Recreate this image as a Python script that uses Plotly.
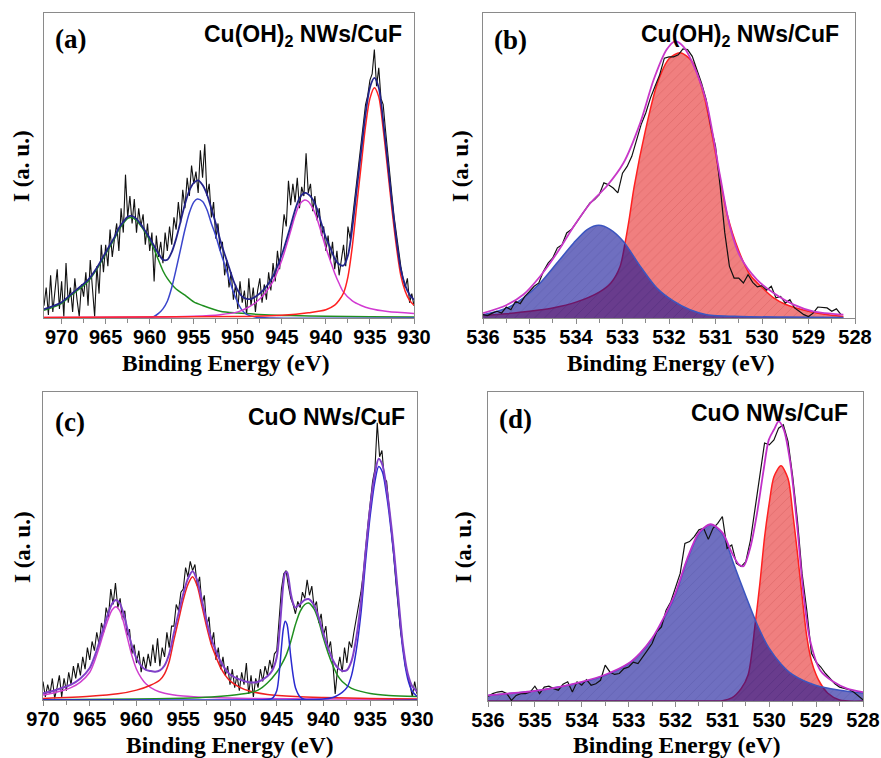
import plotly.graph_objects as go

# ---------------- DATA ----------------
# Panel (a): Cu 2p, Cu(OH)2 NWs/CuF  (raw spectrum, 0.25 eV steps from 972 eV)
a_start, a_step = 972.0, -0.25
a_raw = [
    4, 10, 1, 14,   2, 9, 16, 3,   12, 0.5, 18, 5,   10, 2, 13, 6,
    0.5, 11, 7, 15,   4, 19, 10, 0.5,   17, 8, 24, 15,   24, 17, 29, 20,
    26, 31, 22, 36,   28, 47, 33, 40,   31, 39, 28, 36,   30, 34, 24, 31,
    22, 28, 12, 27,   20, 25, 18, 28,   22, 30, 24, 33,   29, 38, 31, 42,
    36, 46, 40, 50,   44, 48, 41, 55,   46, 57, 40, 44,   33, 38, 26, 31,
    22, 25, 14, 19,   10, 15, 6, 11,   3, 12, 5, 9,   1, 13, 4, 10,
    2, 9, 13, 5,   11, 6, 15, 9,   18, 12, 22, 16,   26, 34, 30, 45,
    37, 44, 38, 46,   36, 43, 40, 54,   41, 44, 35, 40,   32, 36, 27, 30,
    22, 27, 19, 25,   16, 22, 14, 20,   24, 17, 30, 26,   32, 40, 45, 52,
    57, 63, 70, 73,   78, 80, 88, 76,   82, 72, 70, 62,   54, 47, 40, 33,
    27, 22, 17, 13,   10, 13, 5, 8,   4,
]
a_green_x = [972, 971, 970, 969, 968, 967, 966, 965, 964, 963.5, 963, 962.5, 962, 961.5, 961, 960.5, 960,
             959.5, 959, 958.5, 958, 957, 956, 955, 954, 952, 950, 947, 944, 940, 935, 930]
a_green_y = [2.5, 3.5, 4.8, 7.2, 9.5, 12, 16, 21, 26, 29, 31, 32.7, 32.9, 32, 30.2, 28, 25.5,
             22.5, 19, 15.5, 13, 9.5, 7.5, 5.3, 4.1, 2.2, 1.6, 1.1, 0.8, 0.6, 0.4, 0.3]
a_blue_x = [972, 961, 960, 959.5, 959, 958.5, 958, 957.5, 957, 956.5, 956, 955.5, 955, 954.6, 954, 953.5,
            953, 952.5, 952, 951.5, 951, 950.5, 950, 949.5, 949, 948, 946, 930]
a_blue_y = [0, 0, 0.1, 0.5, 1.5, 3, 5.5, 10, 16, 22.5, 29, 34.5, 38, 39, 38.2, 35.5,
            31, 27, 22, 17.5, 13, 8.5, 5, 2.5, 1.2, 0.3, 0, 0]
a_mag_x = [972, 960, 955, 952, 950, 949, 948, 947, 946, 945, 944, 943.5, 943, 942.4, 942, 941.5, 941,
           940.5, 940, 939.5, 939, 938.5, 938, 937, 936, 935, 933, 930]
a_mag_y = [0.2, 0.3, 0.6, 1.1, 2.0, 3.2, 5.0, 7.8, 12, 19, 28.5, 33.5, 37.2, 38.7, 38.2, 36, 32.5,
           27.8, 23, 18.8, 14.7, 11.3, 8.5, 5.6, 4.1, 3.1, 2.1, 1.5]
a_red_x = [972, 950, 945, 942, 940, 939, 938.5, 938, 937.5, 937, 936.5, 936, 935.5, 935, 934.5, 934,
           933.5, 933, 932.5, 932, 931.5, 931, 930.5, 930]
a_red_y = [0.2, 0.5, 0.9, 1.7, 2.7, 4.2, 5.8, 8.2, 13.5, 23.5, 37, 50, 63, 72, 75.5, 72.5,
           62, 49, 35.5, 23.5, 14, 8.8, 5.8, 4.2]
a_env_x = [972, 971, 970, 969, 968, 967, 966, 965, 964, 963.5, 963, 962.5, 962, 961.5, 961, 960.5, 960,
           959.5, 959, 958.5, 958, 957.5, 957, 956.5, 956, 955.5, 955, 954.5, 954, 953.5, 953, 952.5,
           952, 951.5, 951, 950.5, 950, 949.5, 949, 948.5, 948, 947, 946, 945, 944, 943.5, 943, 942.4,
           942, 941.5, 941, 940.5, 940, 939.5, 939, 938.5, 938, 937.5, 937, 936.5, 936, 935.5, 935,
           934.5, 934, 933.5, 933, 932.5, 932, 931.5, 931, 930.5, 930]
a_env_y = [2.9, 3.9, 5.2, 7.6, 10, 12.5, 16.5, 21.5, 26.5, 29.5, 31.5, 33.2, 33.4, 32.5, 30.7, 28.5, 26.2,
           23.6, 21.1, 19.1, 19.1, 21.6, 26, 31.6, 37.3, 41.8, 44.3, 45.1, 43.6, 40.5, 35.8, 31,
           25.6, 21, 16.6, 12.3, 9, 7, 6.3, 6.3, 7, 9.5, 13.7, 20.8, 30.3, 35.4, 39.3, 41,
           40.6, 38.9, 35.7, 30.9, 26.3, 23, 19.5, 17.6, 17.2, 20.5, 29.6, 42.3, 54.6, 67, 75.6,
           78.7, 75.5, 64.7, 51.4, 37.8, 25.6, 16, 10.7, 7.6, 6]

# Panel (b): O 1s, Cu(OH)2 NWs/CuF (raw, 0.1 eV steps from 536 eV)
b_start, b_step = 536.0, -0.1
b_raw = [
    1.1, 0.8, 1.6, 2.2, 1.6, 3.6, 2.7, 5.5, 4.7, 7.1,
    8.7, 10.4, 11.5, 15.3, 18, 19.7, 23, 24, 27.9, 29,
    31.1, 33.3, 35.3, 37.7, 38.8, 40.4, 44.3, 43.7, 42.6, 41,
    47.5, 49.7, 53, 57.9, 63.4, 67.2, 72.1, 76, 79.8, 85.2,
    85.6, 85.6, 86.3, 88.2, 88, 85.8, 81.4, 77, 71.6, 62.8,
    56.3, 43.2, 27.9, 16.9, 13.1, 13.1, 11.5, 14.2, 11.7, 10.2,
    10.6, 9.1, 10.4, 6.6, 7.1, 4.9, 6, 3.3, 2.2, 1.1,
    0.5, 1.6, 3.6, 3.5, 3.3, 2.2, 3, 1.1,
]
b_red_x = [536, 535.5, 535, 534.5, 534, 533.5, 533.25, 533.05, 532.94, 532.85, 532.75, 532.5, 532.25, 532,
           531.76, 531.5, 531.25, 531, 530.75, 530.5, 530.25, 530, 529.75, 529.5, 529, 528.5, 528.25]
b_red_y = [0.8, 1.4, 2.2, 3.3, 5.2, 8.5, 11.5, 17, 25, 33, 43, 62, 77, 85,
           87, 84, 73, 54, 34, 22, 14, 10, 6.6, 4.5, 2.2, 0.9, 0.5]
b_blue_x = [536, 535.48, 535.13, 534.77, 534.41, 534.05, 533.76, 533.51, 533.26, 532.98, 532.62, 532.26,
            531.9, 531.55, 531.19, 530.47, 529.5, 528.25]
b_blue_y = [1.1, 3.3, 6.6, 11.5, 18, 24.6, 29, 30.4, 29, 25.1, 17, 9.8, 5.5, 2.7, 1.1, 0.5, 0.3, 0.2]
b_env_x = [536, 535.5, 535.13, 534.77, 534.41, 534.05, 533.69, 533.34, 532.98, 532.62, 532.33, 532.05,
           531.87, 531.69, 531.4, 531.19, 530.9, 530.69, 530.47, 530.11, 529.75, 529.32, 528.9, 528.25]
b_env_y = [1.6, 4.2, 7.7, 13.7, 21.3, 30, 37.7, 43.2, 50.8, 63.9, 78.1, 88, 90.7, 89, 80.3, 70.5, 46.4,
           30, 20.2, 12.6, 8.2, 4.4, 2.2, 1.1]

# Panel (c): Cu 2p, CuO NWs/CuF (raw, 0.25 eV steps from 970 eV)
c_start, c_step = 970.0, -0.25
c_raw = [
    6, 1, 5, 2,   7, 0.5, 4, 8,   1, 7, 3, 9,   5, 11, 7, 12,
    8, 14, 10, 17,   13, 19, 16, 22,   18, 25, 22, 30,   27, 36, 31, 38,
    30, 33, 26, 29,   21, 23, 15, 18,   12, 16, 9, 14,   10, 15, 11, 18,
    12, 20, 11, 17,   14, 22, 17, 24,   24, 31, 29, 35,   36, 43, 40, 45,
    42, 44, 37, 40,   31, 34, 24, 27,   18, 22, 13, 17,   10, 14, 8, 11,
    5, 10, 4, 8,   3, 9, 5, 12,   2, 8, 1, 7,   4, 10, 6, 11,
    8, 13, 10, 15,   16, 27, 36, 41,   42, 37, 33, 31,   28, 32, 30, 35,
    33, 39, 34, 37,   30, 32, 25, 28,   21, 24, 16, 19,   12, 2, 10, 14,
    9, 17, 12, 19,   17, 22, 26, 31,   35, 41, 50, 57,   64, 71, 75, 90,
    79, 81, 72, 71,   63, 56, 47, 38,   30, 22, 17, 11,   8, 5, 1, 6,   2,
]
c_mag_x = [970, 969, 968, 967, 966, 965, 964.5, 964, 963.5, 963, 962.6, 962.2, 961.8, 961.4, 961, 960.5,
           960, 959.5, 959, 958, 957, 955, 952, 948, 940, 930]
c_mag_y = [1.6, 2.2, 3, 4, 5.8, 9, 12.5, 17, 22, 26.5, 29.3, 30.3, 29, 25.5, 20.5, 14.5,
           10, 7.2, 5.3, 3.2, 2.2, 1.3, 0.8, 0.5, 0.3, 0.2]
c_red_x = [970, 965, 962, 960, 958.5, 957.5, 957, 956.5, 956, 955.5, 955, 954.5, 954, 953.5, 953, 952.5,
           952, 951.5, 951, 950.5, 950, 949, 948, 946, 943, 940, 935, 930]
c_red_y = [0.5, 1.2, 2, 3.2, 4.8, 6.5, 8.5, 12.5, 19.5, 26, 32.5, 37.5, 40, 37, 30.5, 23.8,
           18, 14, 10.5, 8, 6.2, 4.2, 3, 1.8, 1.1, 0.8, 0.5, 0.3]
c_blue1_x = [970, 947, 945.5, 945, 944.7, 944.5, 944.3, 944.1, 943.9, 943.7, 943.5, 943.2, 943, 942.5,
             942, 930]
c_blue1_y = [0, 0, 0.5, 3, 10, 17, 23, 25.6, 24.5, 20, 14, 7, 4, 1, 0.2, 0]
c_green_x = [970, 960, 955, 952, 950, 948, 947, 946, 945, 944.5, 944, 943.5, 943, 942.5, 942, 941.6, 941,
             940.5, 940, 939.5, 939, 938.5, 938, 937, 936, 935, 933, 930]
c_green_y = [0.1, 0.3, 0.6, 1, 1.5, 2.3, 3.2, 5.5, 9, 11.5, 14.5, 19, 24.5, 28.8, 31, 31.5, 29.5,
             25.5, 20, 15.2, 11.2, 8, 6, 3.8, 2.8, 2.1, 1.5, 1.1]
c_blue2_x = [970, 945, 940, 939, 938.5, 938, 937.5, 937, 936.5, 936, 935.5, 935, 934.5, 934.1, 933.7,
             933.3, 933, 932.5, 932, 931.5, 931, 930.5, 930]
c_blue2_y = [0, 0, 0.3, 0.8, 1.5, 2.5, 4, 8, 16, 28, 45, 60, 71, 75.8, 74,
             67.5, 61, 47.5, 31.4, 16, 7, 2.8, 1.2]
c_env_x = [970, 969, 968, 967, 966, 965, 964.5, 964, 963.5, 963, 962.6, 962.2, 961.8, 961.4, 961, 960.5,
           960, 959.5, 959, 958.5, 958, 957.5, 957, 956.5, 956, 955.5, 955, 954.5, 954, 953.5, 953,
           952.5, 952, 951.5, 951, 950.5, 950, 949, 948, 947, 946, 945.5, 945, 944.7, 944.5, 944.3,
           944.1, 943.9, 943.7, 943.5, 943.2, 943, 942.5, 942, 941.6, 941, 940.5, 940, 939.5, 939,
           938.5, 938, 937.5, 937, 936.5, 936, 935.5, 935, 934.5, 934.1, 933.7, 933.3, 933, 932.5,
           932, 931.5, 931, 930.5, 930]
c_env_y = [2.2, 2.9, 3.9, 5, 7, 10.4, 14, 18.6, 23.7, 28.4, 31.3, 32.5, 31.5, 28.2, 23.4, 17.7,
           13.5, 11.1, 9.8, 9.4, 9.2, 9.6, 11.2, 15, 21.8, 28.2, 34.4, 39.4, 41.8, 38.8, 32.3,
           25.6, 19.8, 15.9, 12.5, 10, 8.3, 6.7, 5.8, 5.9, 7.7, 9.5, 13.9, 22.4, 30.3, 37.6,
           41.3, 41.5, 38.7, 34.6, 31, 30, 31.2, 32.5, 32.8, 30.7, 26.7, 21.4, 16.8, 13,
           10.5, 9.5, 9.7, 12.7, 20.1, 31.6, 48.2, 62.8, 73.6, 78.3, 76.3, 69.7, 63.1, 49.5,
           33.3, 17.8, 8.7, 4.4, 2.8]

# Panel (d): O 1s, CuO NWs/CuF (raw, 0.1 eV steps from 536 eV)
d_start, d_step = 536.0, -0.1
d_raw = [
    1.5, 2.4, 2.9, 3.1, 2.4, 0.2, 1.8, 2.4, 2.4, 2.9,
    4.8, 2.4, 4.5, 4.8, 4, 3.5, 5.4, 6.2, 2.9, 6.2,
    5.1, 6.9, 5.1, 5.6, 6.7, 11.6, 9.4, 8.6, 8.9, 10.5,
    11, 12.6, 12.1, 14.1, 16.4, 18.6, 22.4, 24, 29.4, 32.1,
    36.4, 41.3, 51, 51.6, 53.2, 55.4, 55.9, 52.3, 55.9, 57.5,
    59.7, 49.4, 50.5, 44.5, 43.5, 45.1, 52.1, 62.9, 73.7, 83.5,
    82.9, 84.5, 88.3, 89.4, 84, 72.6, 58.6, 41.3, 29.4, 15.4,
    12.6, 11, 8.9, 7.2, 5.6, 4.5, 4, 3.7, 2.9, 1.8, 0.4,
]
d_red_x = [536, 531.5, 531, 530.8, 530.6, 530.45, 530.3, 530.2, 530.1, 530, 529.9, 529.75, 529.6, 529.5,
           529.4, 529.3, 529.2, 529.1, 529, 528.9, 528.75, 528.5, 528]
d_red_y = [0, 0, 0.1, 1, 4, 8.5, 25, 38, 53, 64, 72.6, 76.1, 72, 61,
           48, 34, 21, 13, 8.5, 5.5, 2.5, 0.3, 0]
d_blue_x = [536, 535.5, 535, 534.5, 534, 533.5, 533.25, 533, 532.75, 532.5, 532.25, 532, 531.75, 531.5,
            531.25, 531, 530.75, 530.5, 530.25, 530, 529.75, 529.5, 529, 528.5, 528]
d_blue_y = [1.8, 2.5, 3.2, 4.5, 6, 8.3, 9.9, 12, 15.4, 20, 26.5, 34.5, 45.6, 54,
            57, 54, 44, 34, 24.5, 17, 12, 8.5, 5, 3.5, 2.6]
d_env_x = [536, 535.5, 535, 534.5, 534, 533.5, 533, 532.75, 532.5, 532.25, 532, 531.75, 531.5, 531.25,
           531, 530.8, 530.65, 530.55, 530.4, 530.26, 530.12, 530.01, 529.9, 529.8, 529.69, 529.55,
           529.41, 529.27, 529.13, 528.91, 528.63, 528.34, 528]
d_env_y = [1.8, 2.5, 3.3, 4.5, 6.2, 8.5, 12.2, 15.6, 20.3, 27, 35, 46, 54.5, 57.2,
           54.5, 48, 44.2, 43.6, 49.9, 60.8, 74.8, 84.5, 87.8, 90.5, 87.8, 77,
           57.5, 34.8, 19.7, 9.9, 6.2, 4, 2.9]

a_ticks_major, a_ticks_minor = 5, 2.5
b_ticks_major, b_ticks_minor = 1, 0.5

# ---------------- FIGURE ----------------
W, H = 881, 758
def px(x): return x / W
def py(y): return 1 - y / H

def raw_x(start, step, n):
    return [round(start + step * i, 3) for i in range(n)]

fig = go.Figure()

def line(x, y, color, width, ax, shape='spline', **kw):
    fig.add_trace(go.Scatter(x=x, y=y, mode='lines', xaxis='x' + ax, yaxis='y' + ax,
                             line=dict(color=color, width=width, shape=shape, smoothing=0.8),
                             hoverinfo='skip', **kw))

BLACK = '#111111'
# (a)
line(raw_x(a_start, a_step, len(a_raw)), a_raw, BLACK, 1.1, '', shape='linear')
line(a_green_x, a_green_y, '#1f8f1f', 1.5, '')
line(a_blue_x, a_blue_y, '#3a45cc', 1.5, '')
line(a_mag_x, a_mag_y, '#d23ad2', 1.5, '')
line(a_red_x, a_red_y, '#ff2020', 1.5, '')
line(a_env_x, a_env_y, '#23238a', 1.8, '')

# (b)
RED_FILL = 'rgba(225,0,0,0.5)'
BLUE_FILL = 'rgba(15,15,150,0.6)'
line(b_red_x, b_red_y, '#ff2020', 1.5, '2', fill='tozeroy', fillcolor=RED_FILL,
     fillpattern=dict(shape='/', bgcolor=RED_FILL, fgcolor='rgba(150,20,20,0.35)', size=7, solidity=0.12))
line(b_blue_x, b_blue_y, '#3b55c0', 1.5, '2', fill='tozeroy', fillcolor=BLUE_FILL,
     fillpattern=dict(shape='/', bgcolor=BLUE_FILL, fgcolor='rgba(40,40,110,0.35)', size=7, solidity=0.12))
line(raw_x(b_start, b_step, len(b_raw)), b_raw, BLACK, 1.2, '2', shape='linear')
line(b_env_x, b_env_y, '#c838c8', 1.8, '2')

# (c)
line(raw_x(c_start, c_step, len(c_raw)), c_raw, BLACK, 1.1, '3', shape='linear')
line(c_mag_x, c_mag_y, '#cf3fcf', 1.5, '3')
line(c_red_x, c_red_y, '#f02020', 1.5, '3')
line(c_green_x, c_green_y, '#1f8f1f', 1.5, '3')
line(c_blue1_x, c_blue1_y, '#2a2ad0', 1.5, '3')
line(c_blue2_x, c_blue2_y, '#2a2ad0', 1.5, '3')
line(c_env_x, c_env_y, '#8040c8', 2.0, '3')

# (d)
line(d_red_x, d_red_y, '#ff2020', 1.5, '4', fill='tozeroy', fillcolor=RED_FILL,
     fillpattern=dict(shape='/', bgcolor=RED_FILL, fgcolor='rgba(150,20,20,0.35)', size=7, solidity=0.12))
line(d_blue_x, d_blue_y, '#3b55c0', 1.5, '4', fill='tozeroy', fillcolor=BLUE_FILL,
     fillpattern=dict(shape='/', bgcolor=BLUE_FILL, fgcolor='rgba(40,40,110,0.35)', size=7, solidity=0.12))
line(raw_x(d_start, d_step, len(d_raw)), d_raw, BLACK, 1.2, '4', shape='linear')
line(d_env_x, d_env_y, '#c030c8', 1.8, '4')

TICKFONT = dict(family='Liberation Sans, Arial, sans-serif', size=20, color='black', weight='bold')
FRAME = '#8a8a8a'

def xaxis(dom, rng, major, minor, anchor):
    return dict(domain=dom, range=rng, anchor=anchor, showline=True, mirror=True, linecolor=FRAME,
                linewidth=1.3, ticks='outside', ticklen=5, tickwidth=1, tickcolor=FRAME,
                dtick=major, tick0=rng[1], minor=dict(dtick=minor, ticks='outside', ticklen=4,
                                                       tickcolor=FRAME, tickwidth=1),
                tickprefix='<b>', ticksuffix='</b>', ticklabelstandoff=-4,
                tickfont=TICKFONT, showgrid=False, zeroline=False, fixedrange=True, automargin=False)

def yaxis(dom, anchor):
    return dict(domain=dom, range=[0, 100], anchor=anchor, showline=True, mirror=True, linecolor=FRAME,
                linewidth=1.3, ticks='', showticklabels=False, showgrid=False, zeroline=False,
                automargin=False)

fig.update_layout(
    width=W, height=H, autosize=False, margin=dict(l=0, r=0, t=0, b=0, pad=0),
    paper_bgcolor='white', plot_bgcolor='white', showlegend=False,
    xaxis=xaxis([px(44), px(414)], [972, 930], a_ticks_major, a_ticks_minor, 'y'),
    yaxis=yaxis([py(318), py(13)], 'x'),
    xaxis2=xaxis([px(483), px(855)], [536, 528], b_ticks_major, b_ticks_minor, 'y2'),
    yaxis2=yaxis([py(318), py(13)], 'x2'),
    xaxis3=xaxis([px(43), px(417)], [970, 930], a_ticks_major, a_ticks_minor, 'y3'),
    yaxis3=yaxis([py(700), py(392)], 'x3'),
    xaxis4=xaxis([px(488), px(863)], [536, 528], b_ticks_major, b_ticks_minor, 'y4'),
    yaxis4=yaxis([py(701), py(392)], 'x4'),
)

SERIF = 'Liberation Serif, Times New Roman, serif'
SANS = 'Liberation Sans, Arial, sans-serif'

def text(x, y, s, size, family, xanchor='center', angle=0):
    fig.add_annotation(x=px(x), y=py(y), xref='paper', yref='paper', text=s, showarrow=False,
                       xanchor=xanchor, yanchor='middle', textangle=angle,
                       font=dict(family=family, size=size, color='black', weight='bold'))

for (cx, cy) in [(226, 363), (671, 363), (230, 745), (677, 745)]:
    text(cx, cy, '<b>Binding Energy (eV)</b>', 23.5, SERIF)
for (cx, cy) in [(22, 166), (461, 166), (22, 547), (463, 547)]:
    text(cx, cy, '<b>I (a. u.)</b>', 23, SERIF, angle=-90)
text(70, 39, '<b>(a)</b>', 27, SERIF)
text(510, 40, '<b>(b)</b>', 27, SERIF)
text(70, 422, '<b>(c)</b>', 27, SERIF)
text(515, 419, '<b>(d)</b>', 27, SERIF)
text(404, 35, '<b>Cu(OH)<sub>2</sub> NWs/CuF</b>', 23, SANS, xanchor='right')
text(841, 35, '<b>Cu(OH)<sub>2</sub> NWs/CuF</b>', 23, SANS, xanchor='right')
text(407, 417, '<b>CuO NWs/CuF</b>', 23, SANS, xanchor='right')
text(850, 413, '<b>CuO NWs/CuF</b>', 23, SANS, xanchor='right')

post = ("document.documentElement.style.margin='0';document.documentElement.style.overflow='hidden';"
        "document.body.style.margin='0';document.body.style.padding='0';document.body.style.overflow='hidden';"
        "var gd=document.getElementById('{plot_id}');Plotly.relayout(gd,{width:881,height:758});")
fig.write_html('out.html', config={'responsive': False, 'displayModeBar': False}, post_script=post)
